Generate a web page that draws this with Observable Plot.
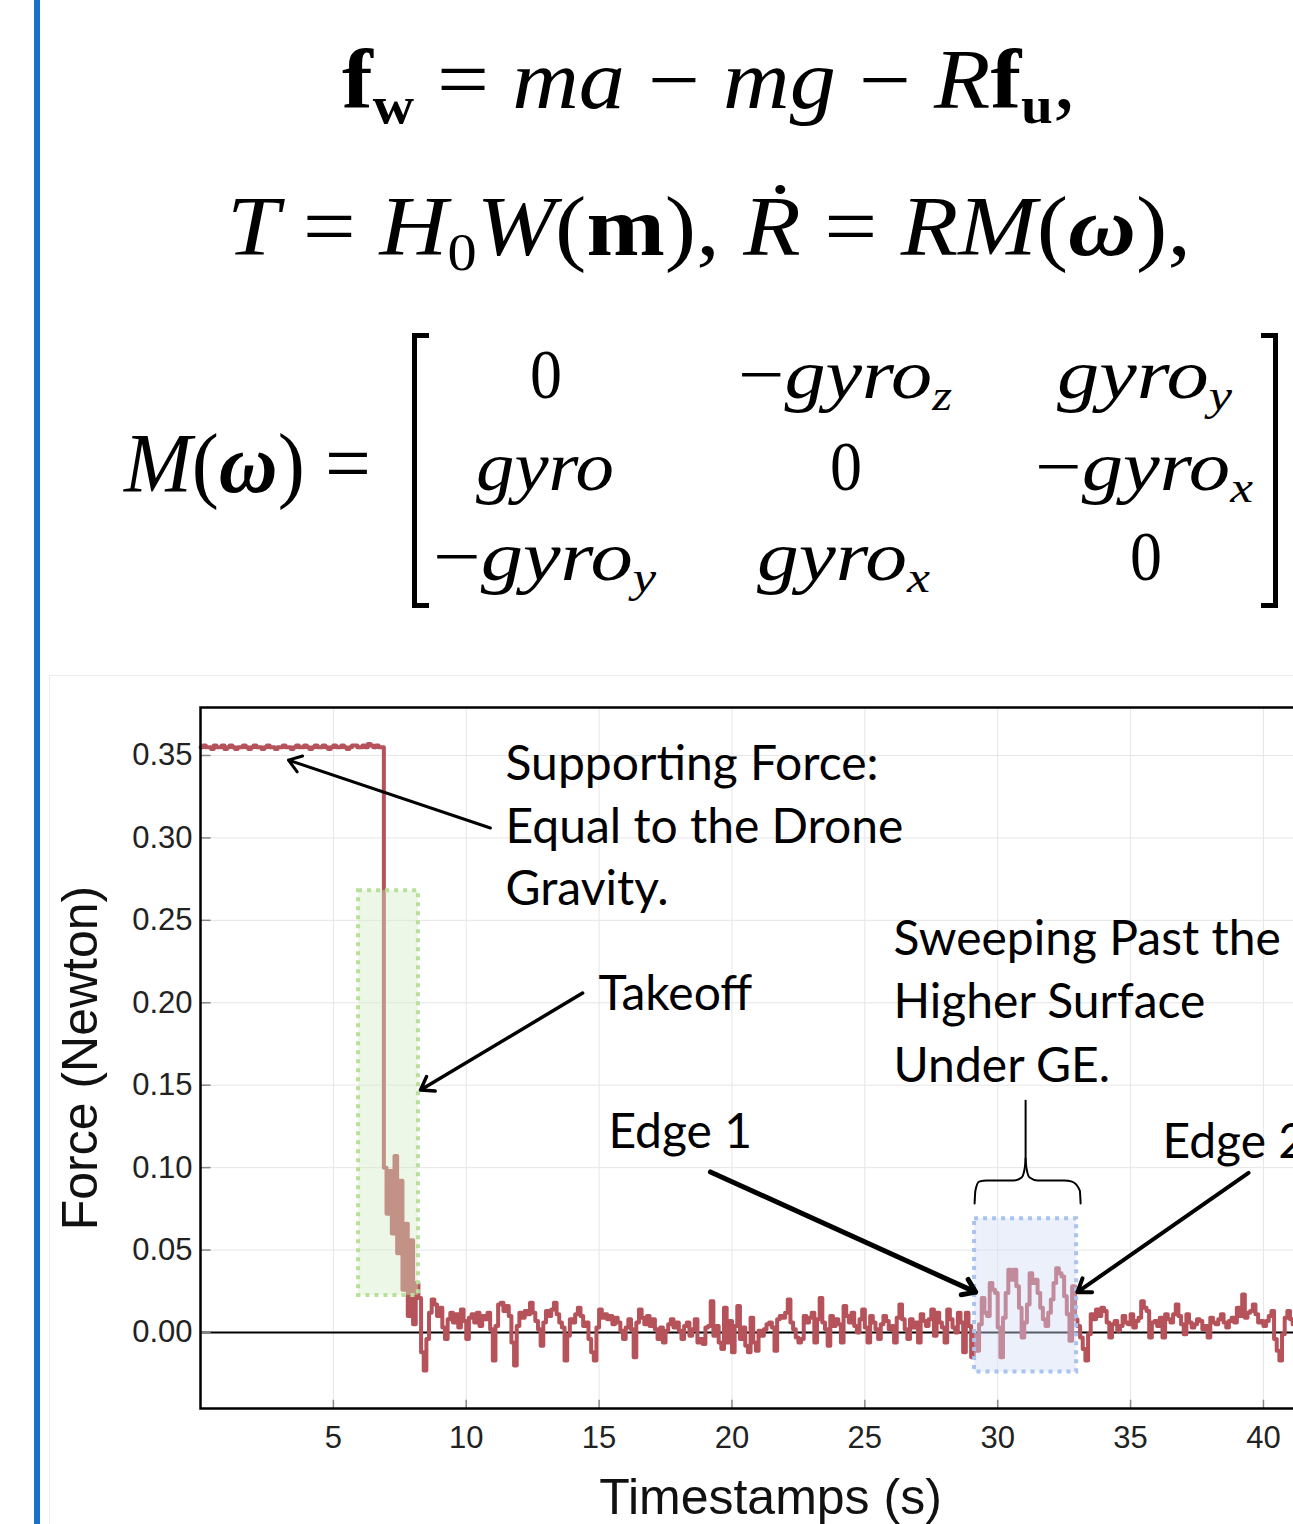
<!DOCTYPE html>
<html>
<head>
<meta charset="utf-8">
<script src="https://cdn.jsdelivr.net/npm/d3@7"></script>
<script src="https://cdn.jsdelivr.net/npm/@observablehq/plot@0.6"></script>
<style>
  html, body { margin: 0; padding: 0; background: #fff; }
  body { width: 1293px; height: 1524px; overflow: hidden; position: relative; }
  #bar { position: absolute; left: 34px; top: 0; width: 6px; height: 1524px; background: #1a72c8; }
  #imgborder { position: absolute; left: 49px; top: 675px; width: 1300px; height: 900px; border-left: 1px solid #ececec; border-top: 1px solid #ececec; }
  .eq { position: absolute; white-space: nowrap; line-height: 1; font-family: "Liberation Serif", "DejaVu Serif", serif; color: #000; transform-origin: 0 0; }
  .eq sub { font-size: 0.62em; vertical-align: -0.28em; line-height: 0; }
  .big { font-size: 84px; }
  .mat { font-size: 70px; }
  .brk { position: absolute; box-sizing: border-box; border-top: 5px solid #000; border-bottom: 5px solid #000; }
  #plot { position: absolute; left: 0; top: 660px; width: 1360px; }
  #plot svg { max-width: none !important; }
</style>
</head>
<body>
<div id="bar"></div>
<div id="imgborder"></div>

<div class="eq big" id="eq1"><b>f</b><sub><b>w</b></sub> = <i>ma</i> − <i>mg</i> − <i>R</i><b>f</b><sub><b>u</b></sub>,</div>
<div class="eq big" id="eq2"><i>T</i> = <i>H</i><sub>0</sub><i>W</i>(<b>m</b>), <i>Ṙ</i> = <i>RM</i>(<b><i>ω</i></b>),</div>
<div class="eq big" id="eq3"><i>M</i>(<b><i>ω</i></b>) =</div>

<div class="brk" style="left:412px;top:333px;width:17px;height:275px;border-left:5px solid #000;"></div>
<div class="brk" style="left:1261px;top:333px;width:17px;height:275px;border-right:5px solid #000;"></div>

<div class="eq mat" id="m11">0</div>
<div class="eq mat" id="m12">−<i>gyro</i><sub><i>z</i></sub></div>
<div class="eq mat" id="m13"><i>gyro</i><sub><i>y</i></sub></div>
<div class="eq mat" id="m21"><i>gyro</i></div>
<div class="eq mat" id="m22">0</div>
<div class="eq mat" id="m23">−<i>gyro</i><sub><i>x</i></sub></div>
<div class="eq mat" id="m31">−<i>gyro</i><sub><i>y</i></sub></div>
<div class="eq mat" id="m32"><i>gyro</i><sub><i>x</i></sub></div>
<div class="eq mat" id="m33">0</div>

<div id="plot"></div>

<script>
// ---------------- DATA ----------------
const sampleStep = 0.1;
const force = [
  // 0.0 – 6.8 s : drone resting on the scale
  0.355,0.356,0.355,0.355,0.354,0.356,0.355,0.355,0.356,0.354,
  0.355,0.356,0.355,0.354,0.355,0.355,0.356,0.355,0.354,0.355,
  0.356,0.355,0.355,0.354,0.355,0.356,0.355,0.355,0.354,0.355,
  0.355,0.356,0.355,0.355,0.354,0.355,0.356,0.355,0.355,0.356,
  0.355,0.354,0.355,0.356,0.355,0.355,0.356,0.355,0.354,0.355,
  0.356,0.355,0.355,0.356,0.355,0.354,0.355,0.356,0.356,0.355,
  0.355,0.356,0.355,0.357,0.356,0.355,0.356,0.355,0.355,
  // 6.9 – 8.2 s : takeoff
  0.100,0.072,0.098,0.060,0.107,0.048,0.092,0.026,0.066,0.010,0.056,0.005,0.030,0.021,
  // 8.3 – 9.2
  -0.012,-0.023,-0.004,0.012,0.020,0.017,0.010,0.015,0.003,-0.004,
  // 9.3 – 10.2
  0.008,0.012,0.006,0.011,0.003,0.014,0.007,-0.004,0.009,0.011,
  // 10.3 – 11.2
  0.006,0.012,0.004,0.010,0.008,0.012,0.002,-0.017,0.004,0.017,
  // 11.3 – 12.2
  0.018,0.013,0.016,0.010,-0.006,-0.020,0.004,0.012,0.009,0.013,
  // 12.3 – 13.2
  0.011,0.018,0.012,0.007,0.002,-0.008,0.006,0.013,0.010,0.014,
  // 13.3 – 14.2
  0.018,0.011,0.006,0.003,-0.017,-0.002,0.008,0.006,0.011,0.015,
  // 14.3 – 15.2
  0.010,0.004,0.006,-0.004,-0.012,-0.017,0.003,0.014,0.009,0.011,
  // 15.3 – 16.2
  0.008,0.010,0.005,0.009,0.006,0.001,-0.004,0.003,0.008,0.002,
  // 16.3 – 17.2
  -0.015,0.006,0.014,0.009,0.005,0.010,0.004,0.008,0.002,-0.004,
  // 17.3 – 18.2
  0.003,-0.006,0.001,0.005,0.008,0.003,0.006,0.001,-0.004,0.004,
  // 18.3 – 19.2
  0.006,-0.002,0.002,0.008,-0.006,-0.004,-0.007,0.003,0.004,0.019,
  // 19.3 – 20.2
  -0.002,0.004,-0.006,-0.010,0.015,-0.006,0.007,-0.012,0.004,0.016,
  // 20.3 – 21.2
  -0.004,0.003,-0.008,-0.012,0.009,-0.006,-0.011,0.001,-0.002,0.002,
  // 21.3 – 22.2
  0.005,0.006,0.003,-0.011,0.008,0.010,0.009,0.012,0.020,0.006,
  // 22.3 – 23.2
  0.002,-0.003,-0.006,-0.004,0.010,0.006,0.009,0.012,-0.006,0.008,
  // 23.3 – 24.2
  0.021,0.006,0.002,-0.008,0.010,0.004,0.008,0.005,-0.006,0.016,
  // 24.3 – 25.2
  0.010,0.006,0.012,0.004,0.000,0.008,0.014,0.003,-0.006,0.010,
  // 25.3 – 26.2
  0.006,0.002,-0.004,0.005,0.010,0.007,0.002,0.004,-0.006,0.009,
  // 26.3 – 27.2
  0.017,0.008,0.002,-0.004,0.008,0.003,0.006,-0.006,0.011,0.007,
  // 27.3 – 28.2
  0.004,0.008,0.014,-0.002,0.012,0.006,0.003,-0.006,0.014,0.008,
  // 28.3 – 29.2
  0.003,0.000,0.012,0.006,-0.012,0.012,0.004,-0.015,-0.002,-0.011,
  // 29.3 – 30.2 : over the higher surface
  0.005,0.021,0.012,0.010,0.030,0.026,0.024,0.003,-0.015,0.009,
  // 30.3 – 31.2
  0.024,0.038,0.032,0.038,0.028,0.015,-0.003,0.006,0.017,0.036,
  // 31.3 – 32.2
  0.030,0.032,0.024,0.015,0.008,0.004,0.012,0.020,0.030,0.039,
  // 32.3 – 33.2
  0.036,0.034,0.022,0.011,-0.005,0.028,0.008,0.004,-0.003,-0.010,
  // 33.3 – 34.2
  -0.017,-0.001,0.011,0.008,0.014,0.010,0.015,0.013,0.006,-0.003,
  // 34.3 – 35.2
  0.005,0.007,0.001,0.004,0.010,0.006,0.005,0.011,0.003,0.007,
  // 35.3 – 36.2
  0.009,0.019,0.015,0.013,-0.003,0.006,0.007,0.004,0.009,-0.003,
  // 36.3 – 37.2
  0.011,0.008,0.006,0.011,0.017,0.010,0.005,-0.001,0.011,0.006,
  // 37.3 – 38.2
  0.003,0.005,0.008,0.007,0.002,0.004,-0.003,0.009,0.006,0.005,
  // 38.3 – 39.2
  0.008,0.011,0.006,0.003,0.007,0.009,0.006,0.015,0.010,0.023,
  // 39.3 – 40.2
  0.009,0.012,0.013,0.017,0.011,0.006,0.007,0.004,0.007,0.010,
  // 40.3 – 41.2
  0.013,-0.004,-0.011,-0.017,-0.001,0.009,0.013,0.008,0.005,0.009,
  // 41.3 – 42.2
  0.004,0.010,0.006,0.002,0.008,0.005,0.011,0.004,0.007,0.003,
  // 42.3 – 42.8
  0.009,0.006,0.002,0.008,0.005,0.004
];

const xTicks = [5, 10, 15, 20, 25, 30, 35, 40];
const yTicks = [0, 0.05, 0.10, 0.15, 0.20, 0.25, 0.30, 0.35];
const xLabel = "Timestamps (s)";
const yLabel = "Force (Newton)";

// highlighted regions [t start, t end, force low, force high]
const boxNames = ["takeoff", "surface"];
const boxT1 = [5.95, 29.13];
const boxT2 = [8.2, 32.97];
const boxV1 = [0.0225, -0.024];
const boxV2 = [0.268, 0.069];

// annotation texts (left edge time, centre force)
const noteText = ["Supporting Force:", "Equal to the Drone", "Gravity.", "Takeoff",
  "Sweeping Past the", "Higher Surface", "Under GE.", "Edge 1", "Edge 2"];
const noteT = [11.48, 11.48, 11.48, 14.98, 26.08, 26.08, 26.08, 15.35, 36.2];
const noteV = [0.3442, 0.3060, 0.2684, 0.2047, 0.2381, 0.1998, 0.1610, 0.1212, 0.1151];

// annotation arrows (tail -> head)
const arrowT1 = [10.91, 14.38, 19.19, 39.44];
const arrowV1 = [0.306, 0.2059, 0.0974, 0.0968];
const arrowT2 = [3.31, 8.28, 29.17, 33.0];
const arrowV2 = [0.3472, 0.1471, 0.0245, 0.0245];
const arrowW = [3, 3.5, 5, 4];

// curly brace above the surface region
const braceSide = ["L","L","L","L","L","L","L","L","R","R","R","R","R","R","R","R"];
const braceT = [29.13,29.16,29.3,29.6,30.6,30.9,31.02,31.05, 31.05,31.08,31.2,31.5,32.5,32.8,33.09,33.12];
const braceV = [0.0783,0.086,0.0915,0.0922,0.0922,0.094,0.1,0.1056, 0.1056,0.1,0.094,0.0922,0.0922,0.0915,0.086,0.0783];
const braceStemT = [31.05];
const braceStemV1 = [0.1056];
const braceStemV2 = [0.1408];

// ---------------- BUILD ----------------
const series = force.map((v, i) => ({t: +(i * sampleStep).toFixed(2), v}));
const boxes = boxNames.map((n, i) => ({n, t1: boxT1[i], t2: boxT2[i], v1: boxV1[i], v2: boxV2[i]}));
const notes = noteText.map((s, i) => ({s, t: noteT[i], v: noteV[i]}));
const arrows = arrowT1.map((t, i) => ({t1: t, v1: arrowV1[i], t2: arrowT2[i], v2: arrowV2[i], w: arrowW[i]}));
const brace = braceT.map((t, i) => ({t, v: braceV[i], side: braceSide[i]}));

const xDomain = [0, 42.9];
const yDomain = [-0.0461, 0.3791];

const chart = Plot.plot({
  width: 1360,
  height: 864,
  marginLeft: 200,
  marginRight: 20,
  marginTop: 47,
  marginBottom: 116,
  style: {fontFamily: "'Liberation Sans', Arial, sans-serif", background: "transparent", overflow: "visible", maxWidth: "none"},
  x: {domain: xDomain},
  y: {domain: yDomain},
  marks: [
    Plot.gridX(xTicks, {stroke: "#e6e6e6", strokeOpacity: 1}),
    Plot.gridY(yTicks, {stroke: "#e6e6e6", strokeOpacity: 1}),
    Plot.ruleY([0], {stroke: "#000", strokeWidth: 2}),
    Plot.line(series, {x: "t", y: "v", stroke: "#b5525a", strokeWidth: 4, curve: "step-after"}),
    Plot.rect(boxes, {x1: "t1", x2: "t2", y1: "v1", y2: "v2",
      fill: d => d.n === "takeoff" ? "#d4ebc5" : "#d2dcf5", fillOpacity: 0.42,
      stroke: d => d.n === "takeoff" ? "#b7e09a" : "#a9c3ef", strokeWidth: 4, strokeDasharray: "4 5"}),
    Plot.ruleY(yTicks, {x1: xDomain[0], x2: xDomain[0] + 0.4, stroke: "#888", strokeWidth: 1.5}),
    Plot.ruleX(xTicks, {y1: yDomain[0], y2: yDomain[0] + 0.005, stroke: "#888", strokeWidth: 1.5}),
    Plot.axisX(xTicks, {tickSize: 0, tickPadding: 17, fontSize: 31, label: null, fill: "#222"}),
    Plot.axisY(yTicks, {tickSize: 0, tickPadding: 8, fontSize: 31, label: null, tickFormat: d3.format(".2f"), fill: "#222"}),
    Plot.frame({stroke: "#000", strokeWidth: 2.5}),
    Plot.text([xLabel], {frameAnchor: "bottom", dy: 89, fontSize: 50, fill: "#111", lineAnchor: "middle"}),
    Plot.text([yLabel], {frameAnchor: "left", dx: -120, rotate: -90, fontSize: 50, fill: "#111", lineAnchor: "middle", textAnchor: "middle"}),
    Plot.arrow(arrows, {x1: "t1", y1: "v1", x2: "t2", y2: "v2", stroke: "#000", strokeWidth: "w", headLength: 22, headAngle: 70}),
    Plot.line(brace, {x: "t", y: "v", z: "side", stroke: "#000", strokeWidth: 2, curve: "monotone-x"}),
    Plot.ruleX(braceStemT, {y1: braceStemV1, y2: braceStemV2, x: braceStemT, stroke: "#000", strokeWidth: 2}),
    Plot.text(notes, {x: "t", y: "v", text: "s", textAnchor: "start", lineAnchor: "middle",
      fontSize: 48, fontFamily: "Lato, 'Open Sans', sans-serif", fill: "#000"})
  ]
});
document.getElementById("plot").appendChild(chart);

// ---------------- EQUATION LAYOUT ----------------
function place(id, left, baseline, width) {
  const el = document.getElementById(id);
  el.style.left = left + "px";
  el.style.top = "0px";
  const mk = document.createElement("span");
  mk.style.display = "inline-block"; mk.style.width = "0"; mk.style.height = "0";
  el.appendChild(mk);
  const r = el.getBoundingClientRect();
  const m = mk.getBoundingClientRect();
  const b = m.top - r.top;
  el.style.top = (baseline - b) + "px";
  if (width) el.style.transform = `scaleX(${width / r.width})`;
}
place("eq1", 342, 108, 734);
place("eq2", 227, 255, 964);
place("eq3", 124, 492, 247);
place("m11", 530, 398, 32);
place("m12", 738, 398, 214);
place("m13", 1057, 398, 175);
place("m21", 476, 490, 138);
place("m22", 830, 490, 32);
place("m23", 1035, 490, 218);
place("m31", 433, 580, 223);
place("m32", 757, 580, 173);
place("m33", 1130, 580, 32);
</script>
</body>
</html>
